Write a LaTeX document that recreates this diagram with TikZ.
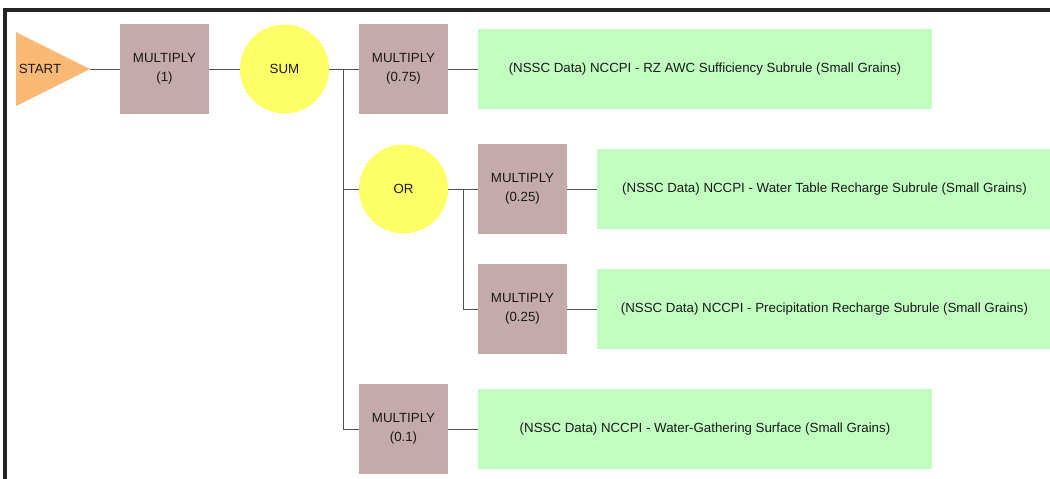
\documentclass[tikz,border=0pt]{standalone}
\usepackage{fontspec}
\setmainfont{Liberation Sans}
\definecolor{multfill}{RGB}{196,170,170}
\definecolor{datafill}{RGB}{192,255,192}
\definecolor{opfill}{RGB}{255,255,102}
\definecolor{startfill}{RGB}{250,186,118}
\definecolor{wire}{RGB}{80,80,80}
\definecolor{frame}{RGB}{35,35,35}
\definecolor{txtc}{RGB}{25,25,25}
\begin{document}
\begin{tikzpicture}[x=1pt,y=-1pt,
  txt/.style={text=txtc,font=\fontsize{13.3}{19}\selectfont,inner sep=0pt},
  multbox/.style={txt,fill=multfill,minimum width=89pt,minimum height=90pt,align=center},
  databox/.style={txt,fill=datafill,minimum height=80pt},
  opnode/.style={txt,circle,fill=opfill,minimum size=89pt},
  wireline/.style={draw=wire,line width=0.9pt}]
\useasboundingbox (0,0) rectangle (1050,479);
\fill[white] (0,0) rectangle (1050,479);
% frame (top and left)
\draw[frame,line width=3.2pt] (5,481) -- (5,10) -- (1052,10);
% start
\fill[startfill] (16,32) -- (90,69) -- (16,106) -- cycle;
\node[txt] (start) at (40,69) {START};
\coordinate (sa) at (90,69);
% nodes
\node[multbox] (m1) at (164.5,69) {MULTIPLY\\(1)};
\node[opnode] (sum) at (284.5,69) {SUM};
\node[multbox] (m075) at (403.5,69) {MULTIPLY\\(0.75)};
\node[databox,minimum width=454pt] (d1) at (705,69) {(NSSC Data) NCCPI - RZ AWC Sufficiency Subrule (Small Grains)};
\node[opnode] (or) at (403.5,189) {OR};
\node[multbox] (m025a) at (522.5,189) {MULTIPLY\\(0.25)};
\node[databox,minimum width=455pt] (d2) at (824.5,189) {(NSSC Data) NCCPI - Water Table Recharge Subrule (Small Grains)};
\node[multbox] (m025b) at (522.5,309) {MULTIPLY\\(0.25)};
\node[databox,minimum width=455pt] (d3) at (824.5,309) {(NSSC Data) NCCPI - Precipitation Recharge Subrule (Small Grains)};
\node[multbox] (m01) at (403.5,429) {MULTIPLY\\(0.1)};
\node[databox,minimum width=454pt] (d4) at (705,429) {(NSSC Data) NCCPI - Water-Gathering Surface (Small Grains)};
% connectors
\coordinate (trunk) at (343,69);
\coordinate (branch) at (463,189);
\draw[wireline] (sa) -- (m1.west);
\draw[wireline] (m1.east) -- (sum.west);
\draw[wireline] (sum.east) -- (m075.west);
\draw[wireline] (m075.east) -- (d1.west);
\draw[wireline] (trunk) |- (or.west);
\draw[wireline] (trunk) |- (m01.west);
\draw[wireline] (or.east) -- (m025a.west);
\draw[wireline] (branch) |- (m025b.west);
\draw[wireline] (m025a.east) -- (d2.west);
\draw[wireline] (m025b.east) -- (d3.west);
\draw[wireline] (m01.east) -- (d4.west);
\end{tikzpicture}
\end{document}
